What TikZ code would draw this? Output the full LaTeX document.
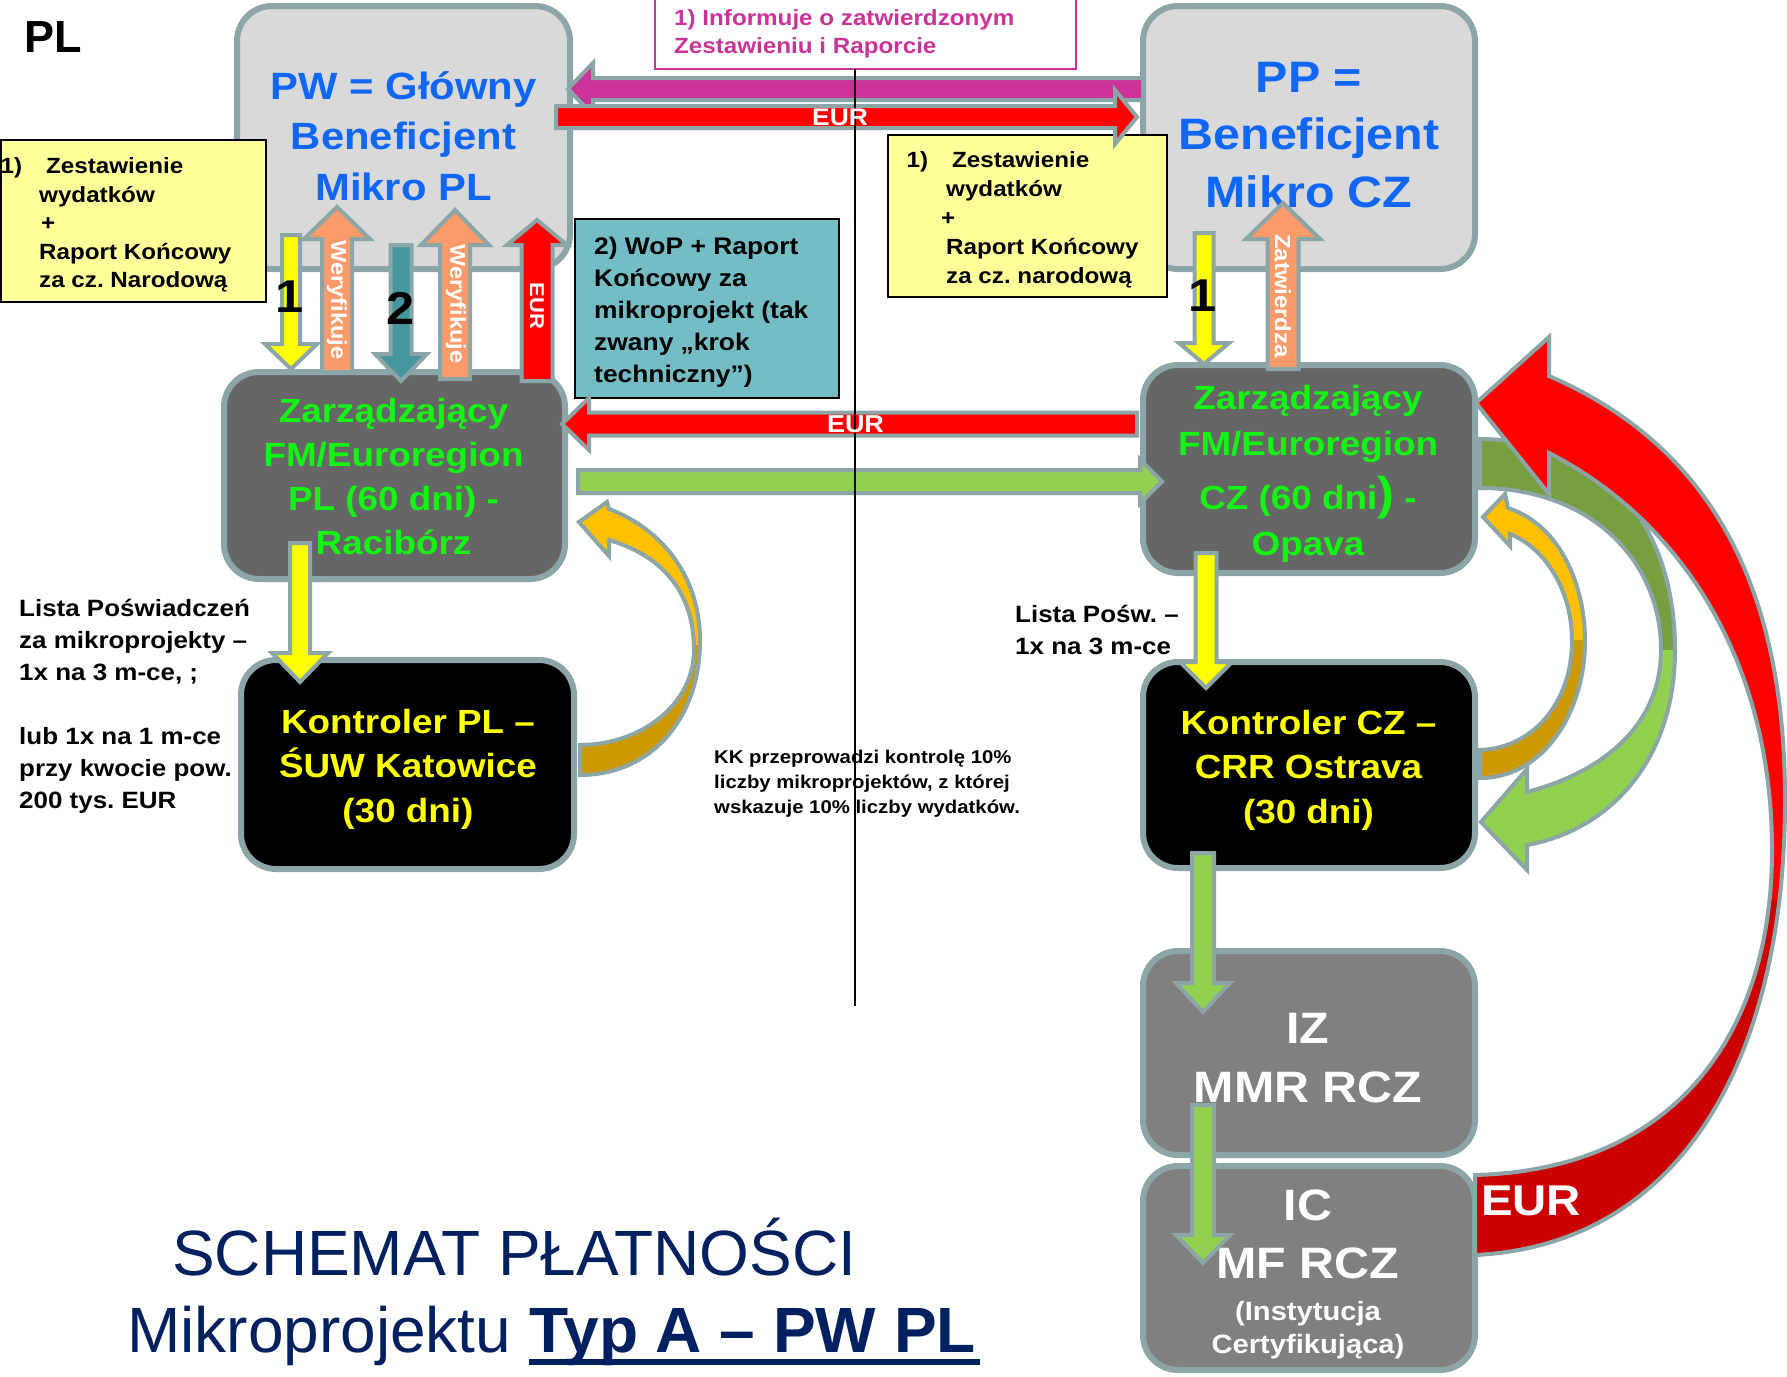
\documentclass[tikz,border=0pt]{standalone}
\usepackage{fontspec}
\setmainfont{Liberation Sans}
\newfontfamily\wsf[FakeStretch=1.1]{Liberation Sans}
\newcommand\fsz[2]{\fontsize{#1pt}{#2pt}\selectfont}
\frenchspacing
\definecolor{bordc}{RGB}{140,165,166}
\definecolor{lgray}{RGB}{217,217,217}
\definecolor{dgray}{RGB}{102,102,102}
\definecolor{mgray}{RGB}{128,128,128}
\definecolor{pwblue}{RGB}{16,102,245}
\definecolor{zgreen}{RGB}{20,245,20}
\definecolor{noteyel}{RGB}{255,255,153}
\definecolor{noteteal}{RGB}{116,189,196}
\definecolor{magc}{RGB}{204,51,153}
\definecolor{salm}{RGB}{250,155,105}
\definecolor{dteal}{RGB}{70,150,160}
\definecolor{agreen}{RGB}{146,208,80}
\definecolor{dgreen}{RGB}{118,160,64}
\definecolor{gold}{RGB}{255,192,0}
\definecolor{dgold}{RGB}{204,153,0}
\definecolor{dred}{RGB}{204,0,0}
\definecolor{navy}{RGB}{0,32,96}
\definecolor{yel}{RGB}{255,255,0}
\newcommand\VArrow[7]{%
  \pgfmathsetmacro\vhb{#3-ifthenelse(#3>#2,1,-1)*#6}%
  \filldraw[fill=#7, draw=bordc, line width=4pt] (#1-#4,#2) -- (#1-#4,\vhb) -- (#1-#5,\vhb) -- (#1,#3) -- (#1+#5,\vhb) -- (#1+#4,\vhb) -- (#1+#4,#2) -- cycle;}
\newcommand\HArrow[7]{%
  \pgfmathsetmacro\hhb{#3-ifthenelse(#3>#2,1,-1)*#6}%
  \filldraw[fill=#7, draw=bordc, line width=4pt] (#2,#1-#4) -- (\hhb,#1-#4) -- (\hhb,#1-#5) -- (#3,#1) -- (\hhb,#1+#5) -- (\hhb,#1+#4) -- (#2,#1+#4) -- cycle;}
\def\orpl{(609,509) .. controls (665,530) and (700,580) .. (700,640) .. controls (700,720) and (650,775) .. (580,775) -- (580,745) .. controls (640,745) and (694,705) .. (694,650) .. controls (694,590) and (660,555) .. (609,540) -- (609,556) -- (579,522) -- (607,502) -- cycle}
\def\orcz{(1508,508) .. controls (1560,525) and (1585,585) .. (1585,641) .. controls (1585,710) and (1545,778) .. (1480,778) -- (1480,750) .. controls (1535,748) and (1572,700) .. (1572,641) .. controls (1572,590) and (1545,548) .. (1510,534) -- (1510,546) -- (1483,517) -- (1505,494) -- cycle}
\def\grcz{(1480,439) .. controls (1610,440) and (1675,530) .. (1675,650) .. controls (1675,760) and (1610,830) .. (1527,845) -- (1527,870) -- (1481,822) -- (1527,769) -- (1527,792) .. controls (1610,770) and (1661,720) .. (1661,650) .. controls (1661,560) and (1590,488) .. (1480,488) -- cycle}
\def\redp{(1475,1255) .. controls (1680,1245) and (1785,1060) .. (1785,800) .. controls (1785,600) and (1720,450) .. (1549,376) -- (1549,337) -- (1476,403) -- (1549,494) -- (1549,453) .. controls (1680,520) and (1772,660) .. (1772,850) .. controls (1772,1040) and (1670,1170) .. (1475,1175) -- cycle}
\begin{document}
\begin{tikzpicture}[x=1pt,y=-1pt,
  box/.style={draw=bordc, line width=6pt, rounded corners=35pt, inner sep=0pt},
  note/.style={draw=black, line width=2pt, inner sep=0pt},
  txt/.style={inner sep=0pt},
  lbl/.style={inner sep=0pt, text=white}]
\useasboundingbox (0,0) rectangle (1787,1376);
\fill[white] (0,0) rectangle (1787,1376);
% top boxes
\node[box, fill=lgray, minimum width=333pt, minimum height=263pt] (pw) at (403.5,137.5) {};
\node[box, fill=lgray, minimum width=332pt, minimum height=263pt] (pp) at (1309,137.5) {};
% notes
\node[note, fill=noteyel, minimum width=265pt, minimum height=162pt] (nl) at (133.5,221) {};
\node[note, fill=noteyel, minimum width=279pt, minimum height=162pt] (nr) at (1027.5,216) {};
\node[note, fill=noteteal, minimum width=264pt, minimum height=179pt] (nt) at (707,308.5) {};
\node[draw=magc, line width=2pt, fill=white, inner sep=0pt, minimum width=421pt, minimum height=71pt] (np) at (865.5,33.5) {};
% other boxes
\node[box, fill=dgray, minimum width=341pt, minimum height=207pt] (zpl) at (394.5,475.5) {};
\node[box, fill=dgray, minimum width=332pt, minimum height=208pt] (zcz) at (1309,469) {};
\node[box, fill=black, minimum width=333pt, minimum height=209pt] (kpl) at (407.5,764.5) {};
\node[box, fill=black, minimum width=332pt, minimum height=206pt] (kcz) at (1309,765) {};
\node[box, fill=mgray, minimum width=332pt, minimum height=204pt] (iz) at (1309,1053) {};
\node[box, fill=mgray, minimum width=332pt, minimum height=204pt] (ic) at (1309,1268) {};
% box texts
\node[txt, anchor=north, align=center, text=pwblue, font=\wsf\bfseries\fsz{38}{50.5}] (pwt) at (403.5,61) {\rule{0pt}{38pt}PW = Główny\\Beneficjent\\Mikro PL};
\node[txt, anchor=north, align=center, text=pwblue, font=\wsf\bfseries\fsz{44}{57.5}] (ppt) at (1309,48) {\rule{0pt}{44pt}PP =\\Beneficjent\\Mikro CZ};
\node[txt, anchor=north west, align=left, text=magc, font=\wsf\bfseries\fsz{22}{28}] (npt) at (674,3) {\rule{0pt}{22pt}1) Informuje o zatwierdzonym\\Zestawieniu i Raporcie};
\node[txt, anchor=north west, align=left, font=\wsf\bfseries\fsz{22}{28.5}] (nlt) at (39,151.5) {\rule{0pt}{22pt}\llap{1)\hspace{17pt}}\hspace*{7pt}Zestawienie\\wydatków\\\hspace*{2pt}+\\Raport Końcowy\\za cz. Narodową};
\node[txt, anchor=north west, align=left, font=\wsf\bfseries\fsz{22}{29}] (nrt) at (946,145.5) {\rule{0pt}{22pt}\llap{1)\hspace{18pt}}\hspace*{6pt}Zestawienie\\wydatków\\\hspace*{-5pt}+\\Raport Końcowy\\za cz. narodową};
\node[txt, anchor=north west, align=left, font=\wsf\bfseries\fsz{24}{32}] (ntt) at (594,230.5) {\rule{0pt}{24pt}2) WoP + Raport\\Końcowy za\\mikroprojekt (tak\\zwany „krok\\techniczny”)};
\node[txt, anchor=north, align=center, text=zgreen, font=\wsf\bfseries\fsz{33.5}{44}] (zplt) at (393.5,388.8) {\rule{0pt}{33.5pt}Zarządzający\\FM/Euroregion\\PL (60 dni) -\\Racibórz};
\node[txt, anchor=north, align=center, text=zgreen, font=\wsf\bfseries\fsz{33.5}{45.3}] (zczt) at (1308,376) {\rule{0pt}{33.5pt}Zarządzający\\FM/Euroregion\\[9.4pt]CZ (60 dni\smash{\fsz{46}{46})} -\\Opava};
\node[txt, anchor=north, align=center, text=yel, font=\wsf\bfseries\fsz{33.5}{44.7}] (kplt) at (408,699.5) {\rule{0pt}{33.5pt}Kontroler PL –\\ŚUW Katowice\\(30 dni)};
\node[txt, anchor=north, align=center, text=yel, font=\wsf\bfseries\fsz{33.5}{44.7}] (kczt) at (1308.5,700.5) {\rule{0pt}{33.5pt}Kontroler CZ –\\CRR Ostrava\\(30 dni)};
\node[txt, anchor=north, align=center, text=white, font=\wsf\bfseries\fsz{44}{59}] (izt) at (1308,999) {\rule{0pt}{44pt}IZ\\MMR RCZ};
\node[txt, anchor=north, align=center, text=white, font=\wsf\bfseries\fsz{44}{58}] (ict) at (1308,1176) {\rule{0pt}{44pt}IC\\MF RCZ};
\node[txt, anchor=north, align=center, text=white, font=\wsf\bfseries\fsz{26.5}{33}] (ict2) at (1308,1293.5) {\rule{0pt}{26.5pt}(Instytucja\\Certyfikująca)};
% straight arrows
\HArrow{89}{1143}{568}{11}{26}{25}{magc}
\HArrow{117}{556}{1137}{11}{27}{22}{red}
\VArrow{291}{235}{369}{9}{26}{25}{yel}
\VArrow{337}{372}{207}{15}{33}{32}{salm}
\VArrow{401}{245}{381}{10.5}{26}{27}{dteal}
\VArrow{455}{379}{210}{15}{34}{35}{salm}
\VArrow{537}{381}{220}{15.5}{30}{25}{red}
\VArrow{1204}{233}{364}{9.5}{25}{21}{yel}
\VArrow{1283}{369}{203}{15.5}{37}{36}{salm}
\HArrow{424}{1137}{562}{11.5}{26}{27}{red}
\HArrow{481.5}{578}{1162}{11.5}{22}{22}{agreen}
\VArrow{300}{543}{682}{10}{28}{29}{yel}
\VArrow{1206}{553}{688}{10.5}{26}{26}{yel}
\VArrow{1203}{853}{1012}{11}{27}{29}{agreen}
\VArrow{1203}{1105}{1263}{11}{27}{28}{agreen}
% curved arrows
\begin{scope}
  \clip \orpl;
  \fill[gold] (560,480) rectangle (720,645);
  \fill[dgold] (560,645) rectangle (720,800);
\end{scope}
\draw[bordc, line width=4pt] \orpl;
\begin{scope}
  \clip \orcz;
  \fill[gold] (1470,480) rectangle (1600,640);
  \fill[dgold] (1470,640) rectangle (1600,800);
\end{scope}
\draw[bordc, line width=4pt] \orcz;
\begin{scope}
  \clip \grcz;
  \fill[dgreen] (1470,420) rectangle (1700,650);
  \fill[agreen] (1470,650) rectangle (1700,890);
\end{scope}
\draw[bordc, line width=4pt] \grcz;
\begin{scope}
  \clip \redp;
  \fill[red] (1460,320) rectangle (1790,900);
  \fill[dred] (1460,900) rectangle (1790,1270);
\end{scope}
\draw[bordc, line width=4pt] \redp;
% divider line
\coordinate (vtop) at (855,69);
\coordinate (vbot) at (855,1006);
\draw[black, line width=1.5pt] (vtop) -- (vbot);
% arrow labels
\node[lbl, font=\wsf\bfseries\fsz{24}{24}] (eur1) at (840,117) {EUR};
\node[lbl, font=\wsf\bfseries\fsz{24.5}{24}] (eur2) at (855.5,424.5) {EUR};
\node[lbl, rotate=-90, font=\wsf\bfseries\fsz{20}{20}] (eur3) at (537,306) {EUR};
\node[lbl, rotate=-90, font=\wsf\bfseries\fsz{21.4}{22}] (wer1) at (337,300) {Weryfikuje};
\node[lbl, rotate=-90, font=\wsf\bfseries\fsz{21.4}{22}] (wer2) at (456,304) {Weryfikuje};
\node[lbl, rotate=-90, font=\wsf\bfseries\fsz{21.8}{22}] (zatw) at (1283,296) {Zatwierdza};
\node[txt, font=\wsf\bfseries\fsz{46}{46}] (one1) at (290,297) {1};
\node[txt, font=\wsf\bfseries\fsz{46}{46}] (one2) at (1203,296) {1};
\node[txt, font=\wsf\bfseries\fsz{46}{46}] (two) at (401,308) {2};
\node[lbl, font=\wsf\bfseries\fsz{43}{43}] (eurbig) at (1531,1201) {EUR};
% free texts
\node[txt, anchor=base west, font=\bfseries\fsz{45}{45}] (pl) at (24,52) {PL};
\node[txt, anchor=north west, align=left, font=\wsf\bfseries\fsz{23.6}{32}] (lista) at (19,593) {\rule{0pt}{23.6pt}Lista Poświadczeń\\za mikroprojekty –\\1x na 3 m-ce, ;\\[32pt]lub 1x na 1 m-ce\\przy kwocie pow.\\200 tys. EUR};
\node[txt, anchor=north west, align=left, font=\wsf\bfseries\fsz{23.6}{32}] (listacz) at (1015,598.4) {\rule{0pt}{23.6pt}Lista Pośw. –\\1x na 3 m-ce};
\node[txt, anchor=north west, align=left, font=\wsf\bfseries\fsz{18.5}{25}] (kk) at (714,744.5) {\rule{0pt}{18.5pt}KK przeprowadzi kontrolę 10\%\\liczby mikroprojektów, z której\\wskazuje 10\% liczby wydatków.};
\node[txt, anchor=base west, text=navy, font=\fsz{64}{64}] (title1) at (172,1275) {SCHEMAT PŁATNOŚCI};
\node[txt, anchor=base west, text=navy, font=\fsz{64}{64}] (title2) at (127,1352) {Mikroprojektu \textbf{Typ A – PW PL}};
\fill[navy] (529,1359) rectangle (980,1365);
\end{tikzpicture}
\end{document}
